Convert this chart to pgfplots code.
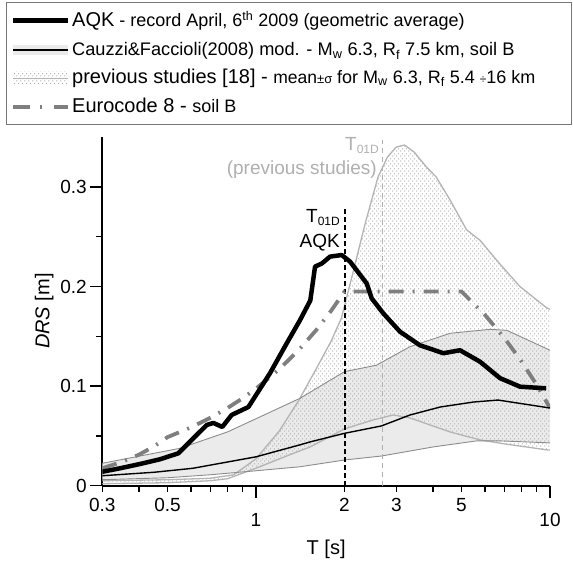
\documentclass[border=0pt]{standalone}
\usepackage{fontspec}
\setmainfont{Liberation Sans}
\usepackage{pgfplots}
\pgfplotsset{compat=1.18}
\usepackage{pgfplotstable}
\usepgfplotslibrary{fillbetween}
\usetikzlibrary{patterns.meta}

\definecolor{bandfill}{HTML}{EBEBEB}
\definecolor{bandline}{HTML}{8C8C8C}
\definecolor{prevline}{HTML}{B4B4B4}
\definecolor{dotcol}{HTML}{A6A6A6}
\definecolor{ecgray}{HTML}{7F7F7F}
\definecolor{lbl}{HTML}{AFAFAF}
\definecolor{boxgray}{HTML}{777777}

\tikzdeclarepattern{
  name=mydots,
  type=uncolored,
  bounding box={(0bp,0bp) and (4bp,5bp)},
  tile size={(4bp,5bp)},
  code={\fill (1bp,1.25bp) circle (0.75bp); \fill (3bp,3.75bp) circle (0.75bp);}
}

% AQK record (geometric average)
\pgfplotstableread{
T D
0.300 0.0140
0.345 0.0175
0.403 0.0218
0.471 0.0265
0.544 0.0325
0.604 0.0459
0.680 0.0610
0.716 0.0630
0.768 0.0590
0.826 0.0710
0.942 0.0790
0.990 0.0890
1.116 0.1130
1.272 0.1430
1.410 0.1660
1.530 0.1860
1.588 0.2200
1.673 0.2230
1.786 0.2300
1.957 0.2316
2.088 0.2250
2.380 0.2030
2.475 0.1880
2.710 0.1730
3.090 0.1546
3.610 0.1410
4.340 0.1330
4.940 0.1360
5.780 0.1245
6.760 0.1080
7.910 0.0994
9.700 0.0978
}\aqk

% Cauzzi & Faccioli mean
\pgfplotstableread{
T D
0.300 0.0100
0.450 0.0135
0.610 0.0175
1.000 0.0290
1.410 0.0410
1.530 0.0440
2.000 0.0526
2.670 0.0600
3.340 0.0710
4.230 0.0790
5.490 0.0840
6.660 0.0860
10.00 0.0780
}\cm

% Cauzzi band upper
\pgfplotstableread{
T D
0.300 0.0225
0.550 0.0375
0.800 0.0540
1.030 0.0690
1.410 0.0877
2.000 0.1145
2.570 0.1210
3.340 0.1396
4.570 0.1530
6.250 0.1570
7.130 0.1560
10.00 0.1360
}\cu

% Cauzzi band lower
\pgfplotstableread{
T D
0.300 0.0060
0.500 0.0080
0.700 0.0110
1.000 0.0150
1.410 0.0190
2.000 0.0258
2.670 0.0298
4.020 0.0390
5.630 0.0450
6.760 0.0450
10.00 0.0430
}\cl

% previous studies upper (mean + sigma)
\pgfplotstableread{
T D
0.300 0.0050
0.500 0.0060
0.700 0.0075
0.840 0.0110
1.000 0.0270
1.200 0.0550
1.400 0.0860
1.600 0.1170
1.800 0.1450
1.950 0.1680
2.100 0.2050
2.350 0.2630
2.600 0.3100
2.800 0.3300
3.000 0.3400
3.200 0.3420
3.450 0.3350
3.800 0.3200
4.100 0.3100
4.570 0.2870
5.200 0.2570
5.800 0.2460
6.600 0.2260
7.900 0.2000
9.700 0.1790
10.00 0.1770
}\pu

% previous studies lower (mean - sigma)
\pgfplotstableread{
T D
0.300 0.0020
0.500 0.0030
0.700 0.0050
0.800 0.0070
1.030 0.0190
1.340 0.0325
1.530 0.0390
2.000 0.0570
2.500 0.0660
2.930 0.0710
3.340 0.0680
4.570 0.0540
5.780 0.0460
7.000 0.0420
9.750 0.0360
10.00 0.0358
}\pl

% Eurocode 8 - soil B
\pgfplotstableread{
T D
0.30 0.01755
0.35 0.02389
0.40 0.03120
0.45 0.03949
0.50 0.04875
0.60 0.05850
0.70 0.06825
0.80 0.07800
0.90 0.08775
1.00 0.09750
1.20 0.11700
1.40 0.13650
1.60 0.15600
1.80 0.17550
2.00 0.19500
5.00 0.19500
6.00 0.17160
7.00 0.14820
8.00 0.12480
9.00 0.10140
10.0 0.07800
}\ec

\begin{document}
\begin{tikzpicture}
\begin{axis}[
  at={(102.3bp,74.3bp)}, anchor=south west,
  scale only axis, width=447.7bp, height=349bp,
  xmode=log, xmin=0.3, xmax=10, ymin=0, ymax=0.3504,
  axis x line*=bottom, axis y line*=left,
  axis line style={line width=1.7bp, -},
  xtick={1,10}, xticklabels={1,10},
  xticklabel style={yshift=-12bp},
  extra x ticks={0.3,0.5,2,3,5}, extra x tick labels={0.3,0.5,2,3,5},
  extra x tick style={major tick length=6bp, xticklabel style={yshift=9bp}},
  minor xtick={0.4,0.6,0.7,0.8,0.9,4,6,7,8,9},
  ytick={0,0.1,0.2,0.3}, yticklabels={0,0.1,0.2,0.3},
  minor ytick={0.05,0.15,0.25},
  tick align=outside, major tick length=12bp, minor tick length=6bp,
  every tick/.style={line width=1.5bp, black},
  /pgf/number format/assume math mode=true,
  ticklabel style={font=\fontsize{19bp}{22bp}\selectfont},
  xlabel={T [s]}, ylabel={\textit{DRS} [m]},
  label style={font=\fontsize{20bp}{24bp}\selectfont},
  xlabel style={yshift=12bp},
]
\addplot[draw=none, name path=cu, forget plot] table {\cu};
\addplot[draw=none, name path=cl, forget plot] table {\cl};
\addplot[draw=none, name path=pu, forget plot] table {\pu};
\addplot[draw=none, name path=pl, forget plot] table {\pl};
\addplot[fill=bandfill, draw=none, forget plot] fill between[of=cu and cl];
\addplot[pattern=mydots, pattern color=dotcol, draw=none, forget plot] fill between[of=pu and pl];
\addplot[prevline, line width=1.3bp, forget plot] table {\pu};
\addplot[prevline, line width=1.3bp, forget plot] table {\pl};
\addplot[bandline, line width=0.9bp, forget plot] table {\cu};
\addplot[bandline, line width=0.9bp, forget plot] table {\cl};
\addplot[lbl, line width=1.3bp, dash pattern=on 5bp off 4bp, forget plot] coordinates {(2.7,0) (2.7,0.347)};
\addplot[black, line width=2bp, dash pattern=on 5bp off 3bp, forget plot] coordinates {(2,0) (2,0.28)};
\addplot[ecgray, line width=3.8bp, dash pattern=on 15bp off 9bp on 2bp off 9bp, forget plot] table {\ec};
\addplot[black, line width=1.4bp, forget plot] table {\cm};
\addplot[black, line width=4.5bp, line join=round, forget plot] table {\aqk};
\end{axis}

% annotations
\node[anchor=base east, inner sep=0pt, font=\fontsize{19bp}{22bp}\selectfont] at (340bp,338bp)
  {T\raisebox{-3.5bp}{\fontsize{12bp}{12bp}\selectfont 01D}};
\node[anchor=base east, inner sep=0pt, font=\fontsize{19bp}{22bp}\selectfont] at (340bp,312.7bp) {AQK};
\node[anchor=base east, inner sep=0pt, text=lbl, font=\fontsize{19bp}{22bp}\selectfont] at (379bp,410bp)
  {T\raisebox{-3.5bp}{\fontsize{12bp}{12bp}\selectfont 01D}};
\node[anchor=base east, inner sep=0pt, text=lbl, font=\fontsize{19bp}{22bp}\selectfont] at (377bp,386bp) {(previous studies)};

% legend
\draw[boxgray, line width=0.9bp] (6bp,436bp) rectangle (571bp,557.3bp);
\draw[black, line width=4.5bp] (13bp,539.3bp) -- (68bp,539.3bp);
\fill[bandfill] (13bp,505bp) rectangle (68bp,515bp);
\draw[black, line width=1.3bp] (13bp,510bp) -- (68bp,510bp);
\fill[pattern=mydots, pattern color=dotcol] (13bp,476bp) rectangle (68bp,488bp);
\draw[prevline, line width=0.8bp] (13bp,482bp) -- (68bp,482bp);
\draw[ecgray, line width=3.5bp, dash pattern=on 17bp off 10bp on 2bp off 12bp] (13bp,453bp) -- (68bp,453bp);

\node[anchor=base west, inner sep=0pt] at (72bp,533.3bp)
  {\fontsize{20bp}{22bp}\selectfont AQK\fontsize{18bp}{20bp}\selectfont\ - record April, 6\textsuperscript{th} 2009 (geometric average)};
\node[anchor=base west, inner sep=0pt] at (72bp,504bp)
  {\fontsize{18.2bp}{20bp}\selectfont Cauzzi\&Faccioli(2008) mod. - M\textsubscript{w} 6.3, R\textsubscript{f} 7.5 km, soil B};
\node[anchor=base west, inner sep=0pt] at (72bp,476.7bp)
  {\fontsize{20bp}{22bp}\selectfont previous studies [18] - \fontsize{17.5bp}{20bp}\selectfont mean{\fontsize{13bp}{14bp}\selectfont ±σ} \fontsize{18bp}{20bp}\selectfont for M\textsubscript{w} 6.3, R\textsubscript{f} 5.4 {\fontsize{12bp}{14bp}\selectfont ÷}16 km};
\node[anchor=base west, inner sep=0pt] at (72bp,447.3bp)
  {\fontsize{20bp}{22bp}\selectfont Eurocode 8 - \fontsize{18bp}{20bp}\selectfont soil B};

\path (0,0) rectangle (573bp,560bp);
\end{tikzpicture}
\end{document}
